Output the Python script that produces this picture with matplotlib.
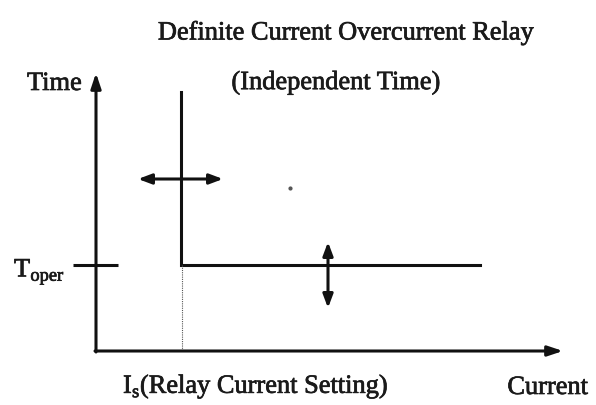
import matplotlib
matplotlib.use("Agg")
import matplotlib.pyplot as plt
import matplotlib.patheffects as pe

# Diagram coordinates (pixel-like units, y downward)
origin = (96, 351)
y_axis_top = 73
x_axis_end = 563
pickup_x = 181
pickup_top = 92
t_oper_y = 265
curve_end_x = 480
tick_x = (73, 118)
h_arrow = ((138, 179), (223, 179))
v_arrow = ((328, 242), (328, 308))

title = "Definite Current Overcurrent Relay"
subtitle = "(Independent Time)"

plt.rcParams['font.family'] = ['Liberation Serif', 'DejaVu Serif']
fig = plt.figure(figsize=(5.96, 4.05), dpi=100)
ax = fig.add_axes([0, 0, 1, 1])
ax.set_xlim(0, 596)
ax.set_ylim(405, 0)
ax.axis('off')

lw = 2.2
ink = '#111111'
k = dict(color=ink, lw=lw, solid_capstyle='butt')
# axes
ax.annotate('', xy=(origin[0], y_axis_top), xytext=(origin[0], origin[1] + 1),
            arrowprops=dict(arrowstyle='-|>,head_length=0.9,head_width=0.3', color=ink, lw=lw, shrinkA=0, shrinkB=0))
ax.annotate('', xy=(x_axis_end, origin[1]), xytext=(origin[0] - 1, origin[1]),
            arrowprops=dict(arrowstyle='-|>,head_length=0.9,head_width=0.3', color=ink, lw=lw, shrinkA=0, shrinkB=0))
# characteristic
ax.plot([pickup_x, pickup_x, curve_end_x], [pickup_top, t_oper_y, t_oper_y], color=ink, lw=lw,
        solid_joinstyle='miter')
# dotted drop
ax.plot([pickup_x + 1, pickup_x + 1], [t_oper_y, origin[1]], color='#555555', lw=0.8, ls=(0, (1, 1)))
# T_oper tick
ax.plot(list(tick_x), [t_oper_y, t_oper_y], **k)
# double arrows
for (a, b) in (h_arrow, v_arrow):
    ax.annotate('', xy=b, xytext=a,
                arrowprops=dict(arrowstyle='<|-|>,head_length=0.8,head_width=0.3', color=ink, lw=lw,
                                shrinkA=0, shrinkB=0))
# small dot
ax.plot([290], [188], 'o', color='#555555', ms=2)

tc = '#1a1a1a'
fx = [pe.withStroke(linewidth=0.5, foreground=tc)]
fs = 19
ax.text(346, 33, title, ha='center', va='center', fontsize=fs, color=tc, path_effects=fx)
ax.text(336, 83, subtitle, ha='center', va='center', fontsize=fs, color=tc, path_effects=fx)
ax.text(27, 84, 'Time', ha='left', va='center', fontsize=fs, color=tc, path_effects=fx)
ax.text(14, 272, r'T$_{\mathregular{oper}}$', ha='left', va='center', fontsize=fs, color=tc, path_effects=fx)
ax.text(123, 387, r'I$_{\mathregular{s}}$(Relay Current Setting)', ha='left', va='center', fontsize=fs, color=tc,
        path_effects=fx)
ax.text(588, 388, 'Current', ha='right', va='center', fontsize=fs, color=tc, path_effects=fx)

fig.savefig('out.png', dpi=100)
